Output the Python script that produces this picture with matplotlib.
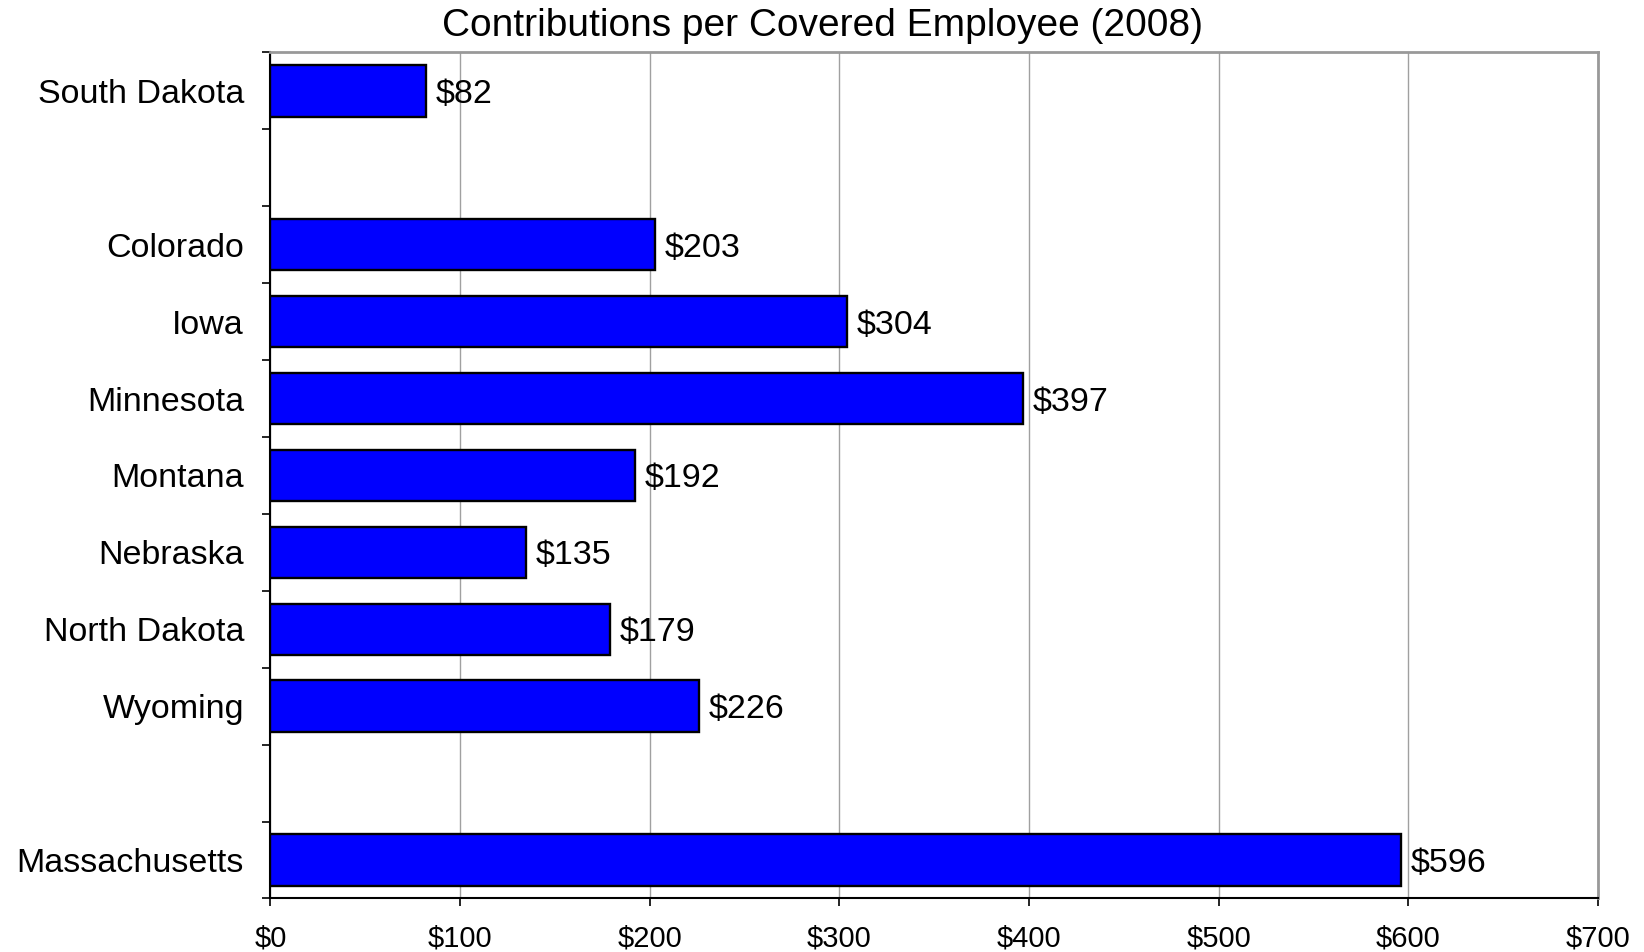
import numpy as np
import matplotlib
matplotlib.use("Agg")
import matplotlib.pyplot as plt
from matplotlib.ticker import MultipleLocator, FuncFormatter

plt.rcParams['font.family'] = ['Liberation Sans', 'DejaVu Sans']

title = "Contributions per Covered Employee (2008)"
categories = ["South Dakota", "", "Colorado", "Iowa", "Minnesota", "Montana",
              "Nebraska", "North Dakota", "Wyoming", "", "Massachusetts"]
values = [82, np.nan, 203, 304, 397, 192, 135, 179, 226, np.nan, 596]
x_max = 700
x_step = 100

fig = plt.figure(figsize=(16.44, 9.52), dpi=100)
ax = fig.add_axes([0.1645, 0.0562, 0.972 - 0.1645, 0.945 - 0.0562])

pos = np.arange(len(categories))
vals = np.array(values, dtype=float)
mask = ~np.isnan(vals)
bars = ax.barh(pos[mask], vals[mask], height=0.67, color='#0000FF',
               edgecolor='black', linewidth=1.7, zorder=3)
for b, v in zip(bars, vals[mask]):
    ax.annotate(f"${int(v)}", (b.get_width(), b.get_y() + b.get_height() / 2),
                xytext=(7, 0), textcoords='offset points', va='center_baseline', ha='left',
                fontsize=24.5, color='black', zorder=4)

ax.set_xlim(0, x_max)
ax.set_ylim(len(categories) - 0.5, -0.5)
ax.xaxis.set_major_locator(MultipleLocator(x_step))
ax.xaxis.set_major_formatter(FuncFormatter(lambda v, p: f"${int(v)}"))
ax.set_yticks(pos)
ax.set_yticklabels(categories)
ax.set_yticks(np.arange(-0.5, len(categories), 1.0), minor=True)
ax.tick_params(axis='y', which='major', length=0, pad=19, labelsize=24.5)
ax.tick_params(axis='y', which='minor', length=6, width=1.2, color='black', direction='out')
ax.tick_params(axis='x', which='major', length=6, width=1.2, pad=13, labelsize=21)

ax.grid(axis='x', color='#A0A0A0', linewidth=1.0, zorder=0)
ax.set_axisbelow(True)
for s in ['top', 'right']:
    ax.spines[s].set_color('#999999')
    ax.spines[s].set_linewidth(2.0)
for s in ['left', 'bottom']:
    ax.spines[s].set_color('black')
    ax.spines[s].set_linewidth(1.5)

fig.text(0.5, 1 - 26 / 952, title, ha='center', va='center', fontsize=28)

fig.savefig("out.png", dpi=100)
